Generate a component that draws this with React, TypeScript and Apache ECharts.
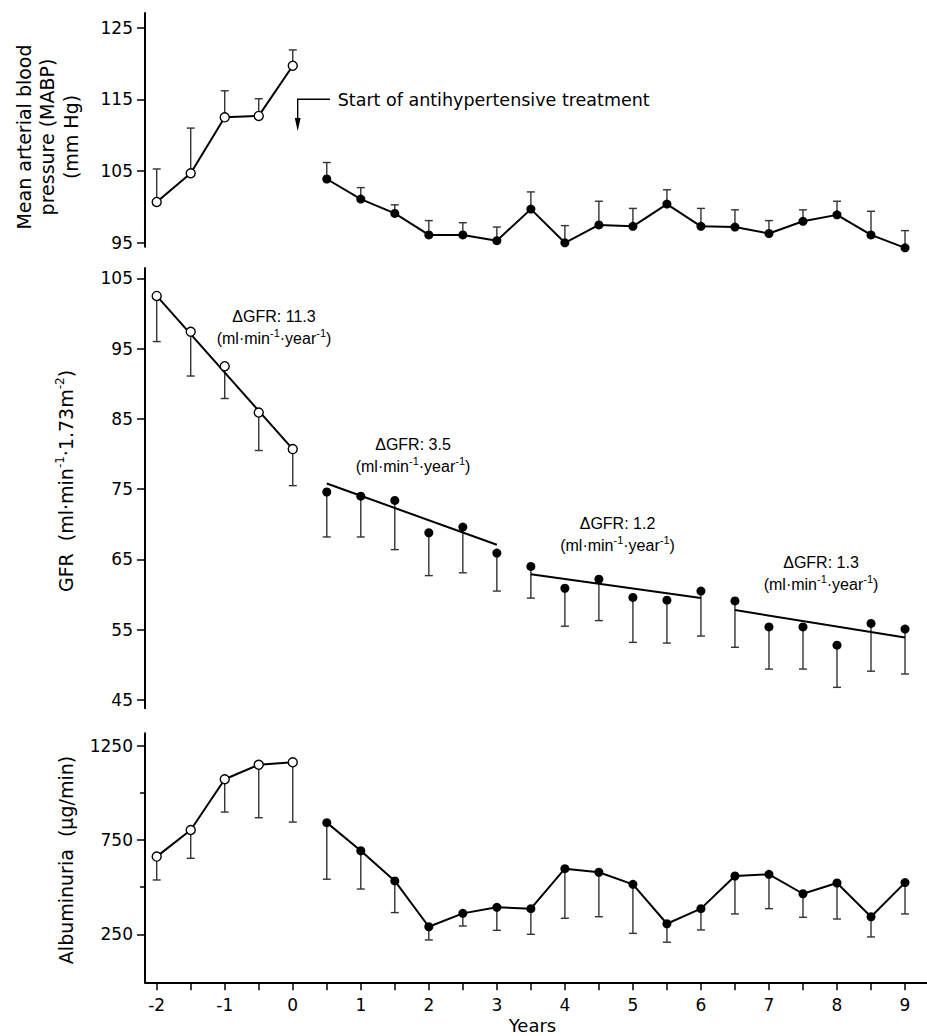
import React, { useEffect, useRef } from "react";
import * as echarts from "echarts";

// ---------- data ----------
const yearsPre = [-2, -1.5, -1, -0.5, 0];
const yearsPost = [0.5, 1, 1.5, 2, 2.5, 3, 3.5, 4, 4.5, 5, 5.5, 6, 6.5, 7, 7.5, 8, 8.5, 9];
const xTickValues = [-2, -1.5, -1, -0.5, 0, 0.5, 1, 1.5, 2, 2.5, 3, 3.5, 4, 4.5, 5, 5.5, 6, 6.5, 7, 7.5, 8, 8.5, 9];
const xLabelValues = [-2, -1, 0, 1, 2, 3, 4, 5, 6, 7, 8, 9];

// Mean arterial blood pressure (mm Hg), error bars upward
const mabpPre = [100.7, 104.7, 112.5, 112.7, 119.7];
const mabpPreUpper = [105.3, 111.0, 116.2, 115.1, 121.9];
const mabpPost = [103.9, 101.1, 99.1, 96.1, 96.1, 95.3, 99.7, 95.0, 97.5, 97.3, 100.4, 97.3, 97.2, 96.3, 98.0, 98.9, 96.1, 94.3];
const mabpPostUpper = [106.2, 102.7, 100.3, 98.1, 97.8, 97.2, 102.1, 97.4, 100.8, 99.8, 102.4, 99.8, 99.6, 98.1, 99.6, 100.8, 99.4, 96.7];
const mabpTicks = [95, 105, 115, 125];

// GFR, error bars downward
const gfrPre = [102.5, 97.4, 92.5, 85.9, 80.7];
const gfrPreLower = [96.0, 91.1, 87.9, 80.5, 75.5];
const gfrPost = [74.6, 74.0, 73.4, 68.8, 69.6, 65.9, 64.0, 60.9, 62.2, 59.6, 59.2, 60.5, 59.1, 55.4, 55.4, 52.8, 55.9, 55.1];
const gfrPostLower = [68.2, 68.2, 66.4, 62.7, 63.1, 60.5, 59.5, 55.5, 56.3, 53.2, 53.1, 54.1, 52.5, 49.4, 49.4, 46.8, 49.1, 48.7];
const gfrTicks = [45, 55, 65, 75, 85, 95, 105];
const gfrFit1 = [[-2, 102.5], [0, 80.7]];
const gfrFit2 = [[0.5, 75.8], [3, 67.1]];
const gfrFit3 = [[3.5, 62.9], [6, 59.5]];
const gfrFit4 = [[6.5, 57.8], [9, 53.9]];
const gfrSlopes = ["11.3", "3.5", "1.2", "1.3"];

// Albuminuria (µg/min), error bars downward
const albPre = [662, 803, 1072, 1149, 1162];
const albPreLower = [538, 653, 898, 868, 845];
const albPost = [842, 693, 533, 290, 361, 393, 386, 598, 579, 515, 306, 386, 559, 568, 465, 522, 343, 524];
const albPostLower = [542, 490, 365, 220, 294, 271, 250, 335, 343, 255, 208, 273, 358, 386, 340, 331, 236, 358];
const albTicks = [250, 750, 1250];
const albMinorTicks = [500, 1000];

// ---------- helpers ----------
const XMIN = -2.172;
const XMAX = 9.323;
const TICK_FONT = "DejaVu Sans";
const TITLE_FONT = "DejaVu Sans";
const ANNO_FONT = "Liberation Sans";

function pairs(xs: number[], ys: number[]) {
  return xs.map((x, i) => [x, ys[i]]);
}

function errSeries(idx: number, xs: number[], from: number[], to: number[]) {
  return {
    type: "custom",
    xAxisIndex: idx,
    yAxisIndex: idx,
    silent: true,
    clip: false,
    z: 1,
    data: xs.map((x, i) => [x, from[i], to[i]]),
    encode: { x: 0, y: [1, 2] },
    renderItem: (_p: any, api: any) => {
      const a = api.coord([api.value(0), api.value(1)]);
      const b = api.coord([api.value(0), api.value(2)]);
      const hw = 4;
      const st = { stroke: "#333", lineWidth: 1.4 };
      return {
        type: "group",
        children: [
          { type: "line", shape: { x1: a[0], y1: a[1], x2: b[0], y2: b[1] }, style: st },
          { type: "line", shape: { x1: b[0] - hw, y1: b[1], x2: b[0] + hw, y2: b[1] }, style: st },
        ],
      };
    },
  };
}

function lineSeries(idx: number, data: number[][], open: boolean, connect = true) {
  return {
    type: connect ? "line" : "scatter",
    xAxisIndex: idx,
    yAxisIndex: idx,
    data,
    clip: false,
    silent: true,
    z: 3,
    symbol: "circle",
    symbolSize: 9,
    itemStyle: open
      ? { color: "#fff", borderColor: "#000", borderWidth: 1.4, opacity: 1 }
      : { color: "#000", borderColor: "#000", borderWidth: 0, opacity: 1 },
    lineStyle: { color: "#000", width: 2 },
  };
}

function fitSeries(data: number[][]) {
  return {
    type: "line",
    xAxisIndex: 1,
    yAxisIndex: 1,
    data,
    symbol: "none",
    silent: true,
    clip: false,
    z: 2,
    lineStyle: { color: "#000", width: 2 },
  };
}

function hiddenX(idx: number) {
  return {
    type: "value",
    gridIndex: idx,
    min: XMIN,
    max: XMAX,
    show: false,
  };
}

function yAxis(idx: number, min: number, max: number, ticks: number[]) {
  return {
    type: "value",
    gridIndex: idx,
    min,
    max,
    position: "left",
    axisLine: { show: true, onZero: false, lineStyle: { color: "#000", width: 2 } },
    axisTick: { show: true, customValues: ticks, length: 8, lineStyle: { color: "#000", width: 1.5 } },
    axisLabel: {
      show: true,
      customValues: ticks,
      margin: 12,
      color: "#000",
      fontSize: 17,
      fontFamily: TICK_FONT,
      formatter: (v: number) => String(v),
    },
    splitLine: { show: false },
  };
}

const supRich = {
  a: { fontSize: 16, fontFamily: ANNO_FONT, fill: "#000", color: "#000", lineHeight: 22 },
  s: { fontSize: 11, fontFamily: ANNO_FONT, fill: "#000", color: "#000", lineHeight: 12, verticalAlign: "top" },
};

function gfrAnno(cx: number, topY: number, slope: string) {
  return {
    type: "text",
    x: cx,
    y: topY,
    silent: true,
    style: {
      text: `{a|\u0394GFR: ${slope}}\n{a|(ml\u00b7min}{s|-1}{a|\u00b7year}{s|-1}{a|)}`,
      rich: supRich,
      fontSize: 16,
      fontFamily: ANNO_FONT,
      lineHeight: 22,
      fill: "#000",
      align: "center",
      textAlign: "center",
      verticalAlign: "top",
      textVerticalAlign: "top",
    },
  };
}

export default function App() {
  const ref = useRef<HTMLDivElement>(null);

  useEffect(() => {
    if (!ref.current) return;
    const chart = echarts.init(ref.current, undefined, { renderer: "svg" });

    const titleRich = {
      a: { fontSize: 19, fontFamily: TITLE_FONT, fill: "#000", color: "#000", lineHeight: 24 },
      s: { fontSize: 12, fontFamily: TITLE_FONT, fill: "#000", color: "#000", lineHeight: 13, verticalAlign: "top" },
    };

    const option: any = {
      animation: false,
      backgroundColor: "#fff",
      grid: [
        { left: 145, width: 782, top: 13, height: 233.7 },
        { left: 145, width: 782, top: 268, height: 440.3 },
        { left: 145, width: 782, top: 733.3, height: 249 },
      ],
      xAxis: [
        hiddenX(0),
        hiddenX(1),
        {
          type: "value",
          gridIndex: 2,
          min: XMIN,
          max: XMAX,
          axisLine: { show: true, onZero: false, lineStyle: { color: "#000", width: 2 } },
          axisTick: { show: true, customValues: xTickValues, length: 8, lineStyle: { color: "#000", width: 1.5 } },
          axisLabel: {
            show: true,
            customValues: xLabelValues,
            margin: 14,
            color: "#000",
            fontSize: 17,
            fontFamily: TICK_FONT,
            formatter: (v: number) => String(v),
          },
          splitLine: { show: false },
        },
      ],
      yAxis: [
        yAxis(0, 94.46, 127.05, mabpTicks),
        yAxis(1, 43.82, 106.47, gfrTicks),
        yAxis(2, -4.5, 1315.7, albTicks),
        {
          type: "value",
          gridIndex: 2,
          min: -4.5,
          max: 1315.7,
          position: "left",
          axisLine: { show: false, onZero: false },
          axisTick: { show: true, customValues: albMinorTicks, length: 5, lineStyle: { color: "#000", width: 1.5 } },
          axisLabel: { show: false },
          splitLine: { show: false },
        },
      ],
      series: [
        // top panel
        errSeries(0, yearsPre, mabpPre, mabpPreUpper),
        errSeries(0, yearsPost, mabpPost, mabpPostUpper),
        lineSeries(0, pairs(yearsPre, mabpPre), true),
        lineSeries(0, pairs(yearsPost, mabpPost), false),
        // middle panel
        errSeries(1, yearsPre, gfrPre, gfrPreLower),
        errSeries(1, yearsPost, gfrPost, gfrPostLower),
        fitSeries(gfrFit1),
        fitSeries(gfrFit2),
        fitSeries(gfrFit3),
        fitSeries(gfrFit4),
        lineSeries(1, pairs(yearsPre, gfrPre), true, false),
        lineSeries(1, pairs(yearsPost, gfrPost), false, false),
        // bottom panel
        errSeries(2, yearsPre, albPre, albPreLower),
        errSeries(2, yearsPost, albPost, albPostLower),
        lineSeries(2, pairs(yearsPre, albPre), true),
        lineSeries(2, pairs(yearsPost, albPost), false),
      ],
      graphic: [
        // arrow for start of treatment
        {
          type: "polyline",
          silent: true,
          shape: { points: [[330, 99.3], [297.7, 99.3], [297.7, 120]] },
          style: { stroke: "#000", lineWidth: 1.4, fill: "none" },
        },
        {
          type: "polygon",
          silent: true,
          shape: { points: [[294.8, 118], [300.6, 118], [297.7, 131]] },
          style: { fill: "#000" },
        },
        {
          type: "text",
          x: 337.7,
          y: 100,
          silent: true,
          style: {
            text: "Start of antihypertensive treatment",
            fontSize: 17.5,
            fontFamily: TITLE_FONT,
            fill: "#000",
            align: "left",
            textAlign: "left",
            verticalAlign: "middle",
            textVerticalAlign: "middle",
          },
        },
        // y-axis titles
        {
          type: "text",
          x: 47,
          y: 137,
          rotation: Math.PI / 2,
          silent: true,
          style: {
            text: "Mean arterial blood\npressure (MABP)\n(mm Hg)",
            fontSize: 19,
            fontFamily: TITLE_FONT,
            lineHeight: 23.5,
            fill: "#000",
            align: "center",
            textAlign: "center",
            verticalAlign: "middle",
            textVerticalAlign: "middle",
          },
        },
        {
          type: "text",
          x: 66,
          y: 481,
          rotation: Math.PI / 2,
          silent: true,
          style: {
            text: "{a|GFR  (ml\u00b7min}{s|-1}{a|\u00b71.73m}{s|-2}{a|)}",
            rich: titleRich,
            fontSize: 19,
            fontFamily: TITLE_FONT,
            lineHeight: 24,
            fill: "#000",
            align: "center",
            textAlign: "center",
            verticalAlign: "middle",
            textVerticalAlign: "middle",
          },
        },
        {
          type: "text",
          x: 66,
          y: 860,
          rotation: Math.PI / 2,
          silent: true,
          style: {
            text: "Albuminuria  (\u00b5g/min)",
            fontSize: 19,
            fontFamily: TITLE_FONT,
            fill: "#000",
            align: "center",
            textAlign: "center",
            verticalAlign: "middle",
            textVerticalAlign: "middle",
          },
        },
        // x-axis title
        {
          type: "text",
          x: 532.5,
          y: 1016,
          silent: true,
          style: {
            text: "Years",
            fontSize: 18,
            fontFamily: TITLE_FONT,
            fill: "#000",
            align: "center",
            textAlign: "center",
            verticalAlign: "top",
            textVerticalAlign: "top",
          },
        },
        // GFR slope annotations
        gfrAnno(274, 305, gfrSlopes[0]),
        gfrAnno(413, 433, gfrSlopes[1]),
        gfrAnno(617.5, 512, gfrSlopes[2]),
        gfrAnno(821, 551, gfrSlopes[3]),
      ],
    };

    chart.setOption(option);
    return () => {
      chart.dispose();
    };
  }, []);

  return (
    <div
      ref={ref}
      style={{ position: "absolute", left: 0, top: 0, width: 927, height: 1036, background: "#fff" }}
    />
  );
}
